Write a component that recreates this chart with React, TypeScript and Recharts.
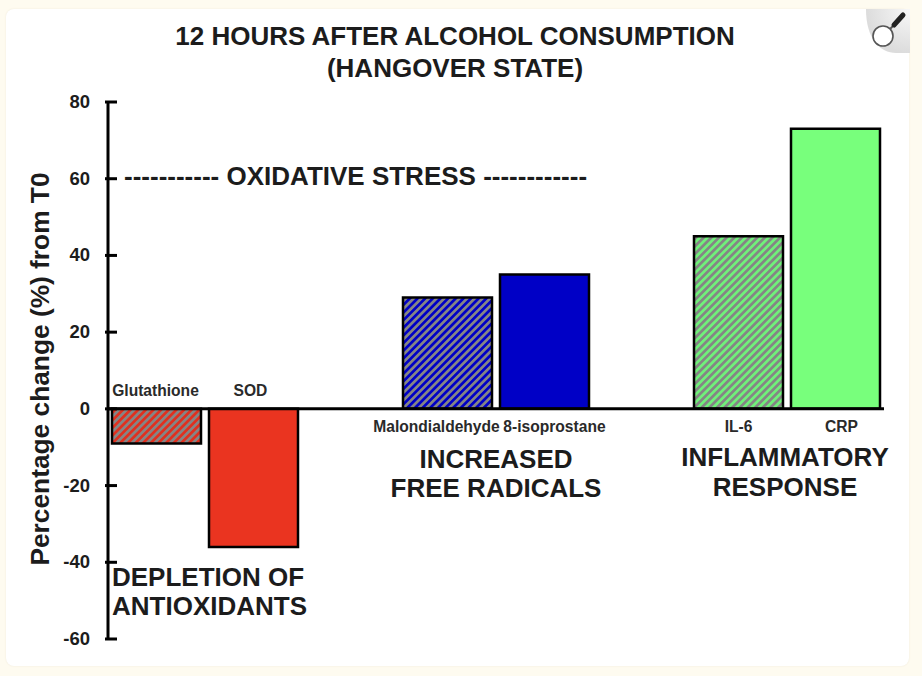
import React from "react";
import { BarChart, Bar, Cell, XAxis, YAxis, ReferenceLine, LabelList } from "recharts";

const categories = ["Glutathione", "SOD", "gap1", "Malondialdehyde", "8-isoprostane", "gap2", "IL-6", "CRP"];
const changes = [-9, -36, null, 29, 35, null, 45, 73];
const yTicks = [-60, -40, -20, 0, 20, 40, 60, 80];
const barFills = ["url(#hatchRed)", "#EA3420", "none", "url(#hatchBlue)", "#0000C6", "none", "url(#hatchGreen)", "#78FF7C"];

const chartData = categories.map((name, i) => ({ name, change: changes[i] }));

const FONT = "'Liberation Sans', Arial, sans-serif";
const INK = "#1c1c1c";

// the labels are not centred on their bars in the original
const labelShift: Record<string, number> = {
  Glutathione: -1,
  SOD: -3,
  Malondialdehyde: -11,
  "8-isoprostane": 10,
  "IL-6": 0,
  CRP: 6,
};

function Hatch({ id, base }: { id: string; base: string }) {
  return (
    <pattern id={id} width="5.4" height="5.4" patternUnits="userSpaceOnUse" patternTransform="rotate(45)">
      <rect width="5.4" height="5.4" fill={base} />
      <rect width="2.7" height="5.4" fill="#858585" />
    </pattern>
  );
}

function AxisTick({ x, y, payload }: any) {
  return (
    <g>
      <line x1={x + 5} x2={x + 17} y1={y} y2={y} stroke="#000" strokeWidth={3} />
      <text x={x - 10} y={y + 6} textAnchor="end" fontFamily={FONT} fontWeight="bold" fontSize={18.5} fill={INK}>
        {payload.value}
      </text>
    </g>
  );
}

function BarName({ x, y, width, height, value }: any) {
  if (!(value in labelShift)) return null;
  const negative = height < 0 || (y as number) > 409;
  const zero = negative ? Math.min(y, y + height) : Math.max(y, y + height);
  return (
    <text
      x={x + width / 2 + labelShift[value]}
      y={negative ? zero - 13 : zero + 23}
      textAnchor="middle"
      fontFamily={FONT}
      fontWeight="bold"
      fontSize={15.6}
      fill="#2a2a2a"
    >
      {value}
    </text>
  );
}

function Caption({ x, y, size = 26, anchor = "middle", children }: any) {
  return (
    <text x={x} y={y} textAnchor={anchor} fontFamily={FONT} fontWeight="bold" fontSize={size} fill={INK}>
      {children}
    </text>
  );
}

export default function App() {
  return (
    <div style={{ position: "fixed", left: 0, top: 0, width: 922, height: 676, background: "#FEFBF0", overflow: "hidden" }}>
      <div
        style={{
          position: "absolute",
          left: 6,
          top: 9,
          width: 903,
          height: 657,
          background: "#fff",
          borderRadius: 8,
          boxShadow: "0 0 2px #eee8d8",
        }}
      />
      <div style={{ position: "absolute", left: 0, top: 0 }}>
        <BarChart
          width={922}
          height={676}
          data={chartData}
          margin={{ top: 102, right: 38, bottom: 37, left: 48 }}
          barCategoryGap={4}
        >
          <defs>
            <Hatch id="hatchRed" base="#E0301F" />
            <Hatch id="hatchBlue" base="#0000C6" />
            <Hatch id="hatchGreen" base="#70F07A" />
          </defs>
          <XAxis dataKey="name" hide />
          <YAxis
            width={60}
            domain={[-60, 80]}
            ticks={yTicks}
            interval={0}
            stroke="#000"
            strokeWidth={3}
            tickLine={false}
            tick={<AxisTick />}
          />
          <Bar dataKey="change" stroke="#000" strokeWidth={2.5} isAnimationActive={false}>
            {chartData.map((d, i) => (
              <Cell key={d.name} fill={barFills[i]} />
            ))}
            <LabelList dataKey="name" content={<BarName />} />
          </Bar>
          <ReferenceLine y={0} stroke="#000" strokeWidth={3} />

          <Caption x={455} y={45}>12 HOURS AFTER ALCOHOL CONSUMPTION</Caption>
          <Caption x={455} y={77}>(HANGOVER STATE)</Caption>
          <Caption x={124} y={185} anchor="start">----------- OXIDATIVE STRESS ------------</Caption>
          <Caption x={496} y={468}>INCREASED</Caption>
          <Caption x={496} y={497}>FREE RADICALS</Caption>
          <Caption x={785} y={466}>INFLAMMATORY</Caption>
          <Caption x={785} y={496}>RESPONSE</Caption>
          <Caption x={112} y={586} anchor="start">DEPLETION OF</Caption>
          <Caption x={112} y={615} anchor="start">ANTIOXIDANTS</Caption>
          <text
            transform="translate(49,369) rotate(-90)"
            textAnchor="middle"
            fontFamily={FONT}
            fontWeight="bold"
            fontSize={26.3}
            fill={INK}
          >
            Percentage change (%) from T0
          </text>
        </BarChart>
      </div>
      <svg style={{ position: "absolute", left: 866, top: 9 }} width={44} height={45}>
        <defs>
          <radialGradient id="corner" cx="1" cy="0" r="1">
            <stop offset="0" stopColor="#f8f8f8" />
            <stop offset="1" stopColor="#dcdcdc" />
          </radialGradient>
        </defs>
        <path d="M0 0 H44 V44 H30 C14 44 0 30 0 0 Z" fill="url(#corner)" />
        <circle cx={17} cy={27} r={10} fill="#fff" stroke="#555" strokeWidth={1.6} />
        <line x1={24} y1={20} x2={27} y2={17} stroke="#555" strokeWidth={2} />
        <line x1={28} y1={16} x2={37} y2={6} stroke="#222" strokeWidth={5} strokeLinecap="round" />
      </svg>
    </div>
  );
}
